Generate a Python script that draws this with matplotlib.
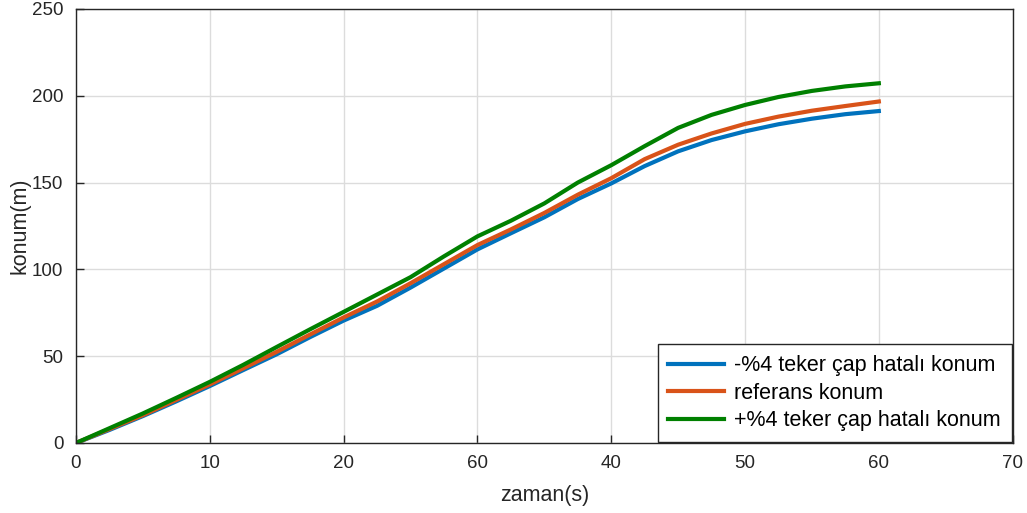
import matplotlib
matplotlib.use('Agg')
import matplotlib.pyplot as plt

plt.rcParams['font.family'] = ['Liberation Sans', 'DejaVu Sans']

# time (s)
t = [0, 2.5, 5, 7.5, 10, 12.5, 15, 17.5, 20, 22.5, 25, 27.5, 30,
     32.5, 35, 37.5, 40, 42.5, 45, 47.5, 50, 52.5, 55, 57.5, 60]

# -4% wheel diameter error
pos_minus = [0, 7.5, 15.5, 24, 32.8, 42, 51.1, 61, 70.5, 79, 89.5, 100.5, 111.5,
             120.8, 130, 140.5, 149.5, 159.5, 168, 174.5, 179.5, 183.6, 186.8, 189.4, 191.2]
# reference
pos_ref = [0, 8, 16, 24.8, 33.7, 43, 52.5, 62.5, 72.3, 81.5, 92, 103, 114,
           123, 132.5, 143, 152.5, 163.5, 171.8, 178.3, 183.8, 188, 191.4, 194.1, 196.7]
# +4% wheel diameter error
pos_plus = [0, 8.5, 17, 26, 35.2, 45, 55.3, 65.5, 75.5, 85.5, 95.5, 107.5, 119,
            128, 138, 150, 160, 171, 181.5, 189, 194.7, 199.3, 202.8, 205.4, 207.2]

xticks = [0, 10, 20, 30, 40, 50, 60, 70]
xtick_labels = ['0', '10', '20', '60', '40', '50', '60', '70']
yticks = [0, 50, 100, 150, 200, 250]

fig = plt.figure(figsize=(10.27, 5.13), dpi=100)
ax = fig.add_axes([0.074, 0.1365, 0.912, 0.846])

ax.plot(t, pos_minus, color='#0072BD', lw=3, label='-%4 teker çap hatalı konum')
ax.plot(t, pos_ref, color='#D95319', lw=3, label='referans konum')
ax.plot(t, pos_plus, color='#008000', lw=3, label='+%4 teker çap hatalı konum')

ax.set_xlim(0, 70)
ax.set_ylim(0, 250)
ax.set_xticks(xticks)
ax.set_xticklabels(xtick_labels)
ax.set_yticks(yticks)
ax.grid(True, color='#dcdcdc', lw=1)
ax.set_axisbelow(True)
ax.tick_params(direction='in', length=6, width=1, colors='#262626',
               labelsize=13.5, pad=9)
for sp in ax.spines.values():
    sp.set_color('#262626')
    sp.set_linewidth(1)

ax.set_xlabel('zaman(s)', fontsize=15.5, color='#262626', labelpad=9)
ax.set_ylabel('konum(m)', fontsize=15.5, color='#262626', labelpad=1)

leg = ax.legend(loc='lower right', fontsize=15.5, fancybox=False, framealpha=1,
                edgecolor='#262626', borderaxespad=0.05, handlelength=2.6,
                handletextpad=0.45, labelspacing=0.3, borderpad=0.5)
leg.get_frame().set_linewidth(1)

fig.savefig('out.png', dpi=100)
